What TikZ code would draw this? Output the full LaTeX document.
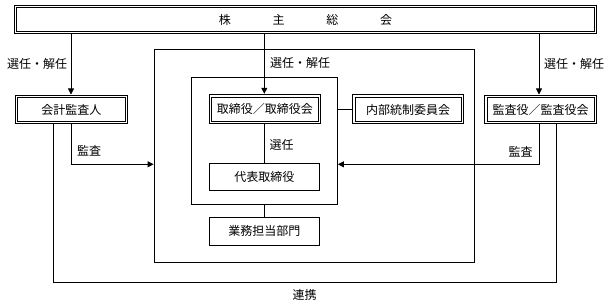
\documentclass[tikz,border=0pt]{standalone}
\usepackage{fontspec}
\setmainfont{Noto Sans CJK JP}
\usetikzlibrary{arrows.meta,backgrounds}
\begin{document}
\begin{tikzpicture}[x=1pt,y=-1pt,
  every node/.style={font=\fontsize{12pt}{14pt}\selectfont, inner sep=0pt},
  dbox/.style={draw, line width=1pt, fill=white},
  dinner/.style={line width=0.7pt},
  sbox/.style={draw, line width=0.8pt, fill=white},
  frame/.style={draw, line width=0.8pt},
  conn/.style={line width=0.8pt},
  arr/.style={conn, -{Triangle[length=6pt,width=6pt]}},
  arrd/.style={arr, shorten >=0.5pt}]
\useasboundingbox (0,0) rectangle (611,307);

% frames
\node[frame, minimum width=320.3pt, minimum height=213.4pt] (big) at (314.15,156) {};
\node[frame, minimum width=146.2pt, minimum height=126.6pt] (inner) at (264.4,141) {};

% boxes
\node[dbox, minimum width=582pt, minimum height=28pt] (gm) at (305.5,19.5)
  {株\hspace{41.7pt}主\hspace{41.7pt}総\hspace{41.7pt}会};
\node[dbox, minimum width=112pt, minimum height=28pt] (acct) at (71.5,109.5) {会計監査人};
\node[dbox, minimum width=110.7pt, minimum height=29pt] (board) at (264.8,109.3) {取締役／取締役会};
\node[dbox, minimum width=110.7pt, minimum height=29pt] (ic) at (408.1,109.5) {内部統制委員会};
\node[dbox, minimum width=111.4pt, minimum height=28pt] (kansa) at (540.5,109.5) {監査役／監査役会};
\node[sbox, minimum width=109.7pt, minimum height=27.4pt] (rep) at (264.3,177) {代表取締役};
\node[sbox, minimum width=110pt, minimum height=27.3pt] (biz) at (264.3,231.3) {業務担当部門};

\foreach \n in {gm,acct,board,ic,kansa}
  \draw[dinner] ([xshift=2.8pt,yshift=-2.8pt]\n.north west) rectangle ([xshift=-2.8pt,yshift=2.8pt]\n.south east);

% coordinates
\coordinate (xl) at (71,0);
\coordinate (xc) at (264.3,0);
\coordinate (xr) at (539,0);
\coordinate (la) at (71,164.3);
\coordinate (ra) at (539,164.3);
\coordinate (k1) at (53,282.7);
\coordinate (k2) at (556.7,282.7);

\begin{scope}[on background layer]
  \draw[arrd] (gm.south -| xl) -- (acct.north -| xl);
  \draw[arrd] (gm.south -| xc) -- (board.north -| xc);
  \draw[arrd] (gm.south -| xr) -- (kansa.north -| xr);
  \draw[conn] (board.south -| xc) -- (rep.north -| xc);
  \draw[conn] (inner.south -| xc) -- (biz.north -| xc);
  \draw[conn] (inner.east |- ic) -- (ic);
  \draw[arr] (acct.south -| la) -- (la) -- (big.west |- la);
  \draw[arr] (kansa.south -| ra) -- (ra) -- (inner.east |- ra);
  \draw[conn] (acct.south -| k1) -- (k1) -- (k2) -- (kansa.south -| k2);
\end{scope}

% labels
\node (t1) at (37,64) {選任・解任};
\node (t2) at (300,63) {選任・解任};
\node (t3) at (574,64) {選任・解任};
\node (t4) at (89,151) {監査};
\node (t5) at (520.5,152) {監査};
\node (t6) at (281.5,145) {選任};
\node (t7) at (304.5,295) {連携};
\end{tikzpicture}
\end{document}
